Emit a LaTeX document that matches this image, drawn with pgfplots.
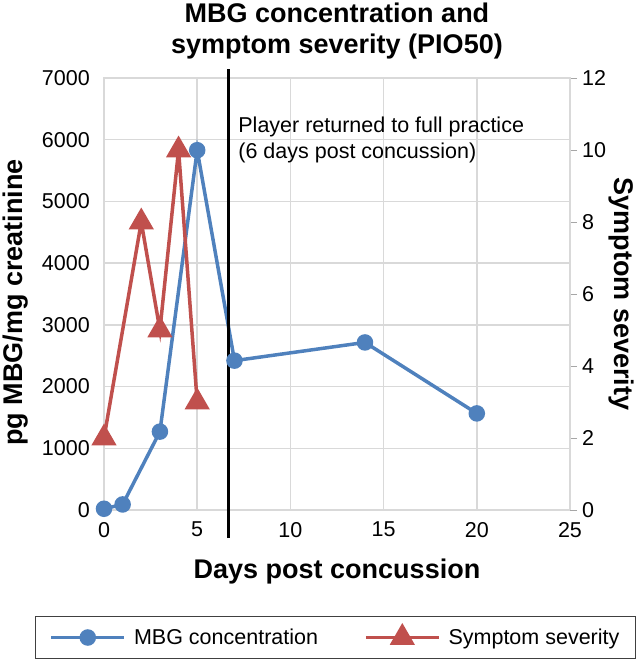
\documentclass[border=0pt]{standalone}
\usepackage{fontspec}
\setmainfont{Liberation Sans}
\usepackage{pgfplots}
\pgfplotsset{compat=1.18}
\definecolor{mbgblue}{HTML}{4F81BD}
\definecolor{symred}{HTML}{C0504D}
\definecolor{gridgray}{HTML}{D9D9D9}

\begin{document}
\begin{tikzpicture}[font=\fontsize{21.5}{26.5}\selectfont]
\pgfplotsset{
  every axis/.append style={
    scale only axis, width=466pt, height=432pt,
    xmin=0, xmax=25,
    /pgf/number format/assume math mode=true,
    /pgf/number format/1000 sep={},
  },
}
\begin{axis}[
    ymin=0, ymax=7000,
    xtick={0,5,...,25}, ytick={0,1000,...,7000},
    grid=major,
    major grid style={draw=gridgray, line width=1.5pt},
    axis line style={draw=gridgray, line width=1.5pt},
    major tick length=0pt,
    yticklabel style={inner sep=0pt, xshift=-14pt},
    xticklabel style={inner sep=0pt, yshift=-12pt},
    xlabel={\bfseries Days post concussion},
    xlabel style={font=\fontsize{27}{30}\selectfont, at={(0.5,-0.1435)}, anchor=center},
    ylabel={\bfseries pg MBG/mg creatinine},
    ylabel style={font=\fontsize{27}{30}\selectfont, at={(-0.189,0.48)}, anchor=center},
    title={\bfseries MBG concentration and\\\bfseries symptom severity (PIO50)},
    title style={font=\fontsize{27}{31}\selectfont, align=center, inner sep=0pt, at={(0.5,1)}, anchor=south, yshift=12.5pt},
    clip=false,
]
\coordinate (O) at (rel axis cs:0,0);
\addplot[color=mbgblue, line width=3.5pt, mark=*, mark size=6.5pt] coordinates {
    (0,20) (1,90) (3,1270) (5,5830) (7,2420) (14,2715) (20,1565)
};
\draw[black, line width=2.4pt] (axis cs:6.67,-454) -- (axis cs:6.67,7147);
\node[anchor=west, align=left, inner sep=0pt] at (axis cs:7.2,6000)
    {Player returned to full practice\\(6 days post concussion)};
\end{axis}

\begin{axis}[
    ymin=0, ymax=12,
    ytick={0,2,...,12},
    hide x axis,
    axis y line*=right,
    y axis line style={draw=gridgray, line width=1.5pt},
    tick align=outside,
    major tick length=7pt,
    major tick style={draw=gray!70, line width=1pt},
    yticklabel style={inner sep=0pt, xshift=5pt},
    ylabel={\bfseries Symptom severity},
    ylabel style={font=\fontsize{27}{30}\selectfont, rotate=180, at={(1.11,0.5)}, anchor=center},
    legend columns=2,
    legend cell align=left,
    legend image code/.code={
      \draw[#1, mark repeat=2, mark phase=2] plot coordinates {(0pt,0pt) (36.5pt,0pt) (73pt,0pt)};
    },
    legend style={
      at={(-0.148,-0.2454)}, anchor=north west,
      draw=black!75, line width=1pt,
      inner xsep=14pt, inner ysep=10pt,
      /tikz/every odd column/.append style={column sep=6pt},
      /tikz/every even column/.append style={column sep=44pt},
    },
]
\addlegendimage{color=mbgblue, line width=3.5pt, mark=*, mark size=6.5pt}
\addlegendentry{MBG concentration}
\addplot[color=symred, line width=3.5pt, mark=triangle*, mark size=11pt] coordinates {
    (0,2) (2,8) (3,5) (4,10) (5,3)
};
\addlegendentry{Symptom severity}
\end{axis}
\pgfresetboundingbox
\path ([shift={(-104pt,-152pt)}]O) rectangle ([shift={(537pt,510pt)}]O);
\end{tikzpicture}
\end{document}
